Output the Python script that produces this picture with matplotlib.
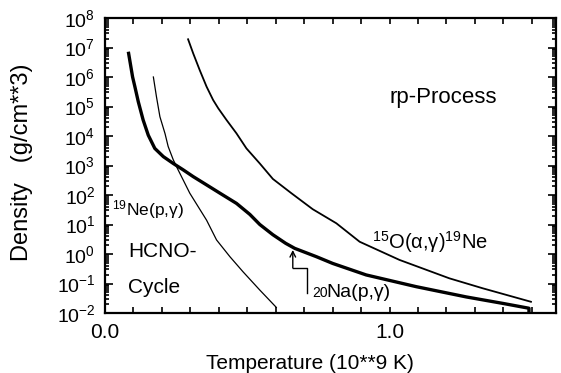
import matplotlib.pyplot as plt
import numpy as np
from matplotlib.ticker import MultipleLocator, FuncFormatter, LogLocator, NullFormatter

plt.rcParams['font.family'] = ['Liberation Sans', 'DejaVu Sans']
plt.rcParams['mathtext.fontset'] = 'custom'
plt.rcParams['mathtext.rm'] = 'Liberation Sans'
plt.rcParams['mathtext.it'] = 'Liberation Sans:italic'
plt.rcParams['mathtext.bf'] = 'Liberation Sans:bold'

# Data: temperature in 10^9 K, density in g/cm^3
# thick line: 19Ne(p,g) / 20Na(p,g) breakout
t_ne = [0.082, 0.097, 0.105, 0.117, 0.134, 0.152, 0.175, 0.205, 0.24, 0.275,
        0.31, 0.357, 0.404, 0.462, 0.509, 0.544, 0.59, 0.635, 0.667, 0.743,
        0.80, 0.918, 1.094, 1.27, 1.40, 1.49, 1.49]
rho_ne = [7.2e6, 1.0e6, 4.7e5, 1.45e5, 3.5e4, 1.07e4, 3.8e3, 2.0e3, 1.17e3, 7.1e2,
          4.2e2, 2.2e2, 1.15e2, 5.2e1, 2.2e1, 1.0e1, 4.5, 2.3, 1.55, 8.1e-1,
          4.8e-1, 1.95e-1, 7.8e-2, 3.5e-2, 2.1e-2, 1.45e-2, 1.0e-2]

# thin line: HCNO cycle limit
t_hcno = [0.170, 0.181, 0.193, 0.211, 0.222, 0.24, 0.257, 0.275, 0.298, 0.357,
          0.392, 0.439, 0.485, 0.544, 0.602]
rho_hcno = [1.0e6, 2.1e5, 4.5e4, 1.2e4, 4.4e3, 1.55e3, 7.1e2, 3.2e2, 1.15e2, 1.4e1,
            3.0, 8.1e-1, 2.5e-1, 6.0e-2, 1.55e-2]

# medium line: 15O(a,g)19Ne
t_o15 = [0.292, 0.31, 0.333, 0.357, 0.38, 0.398, 0.427, 0.462, 0.497, 0.544,
         0.59, 0.655, 0.73, 0.813, 0.895, 1.035, 1.21, 1.327, 1.497]
rho_o15 = [1.9e7, 6.3e6, 1.7e6, 4.7e5, 1.66e5, 8.7e4, 3.5e4, 1.23e4, 3.8e3, 1.17e3,
           3.5e2, 1.15e2, 3.3e1, 1.1e1, 2.6, 6.3e-1, 1.5e-1, 6.9e-2, 2.4e-2]

# x tick labels
x_labelled = [0.0, 1.0]

fig = plt.figure(figsize=(5.61, 3.73), dpi=100)
ax = fig.add_axes([105 / 561, 60 / 373, 451 / 561, 295 / 373])

ax.plot(t_ne, rho_ne, color='black', lw=2.4, solid_capstyle='butt', solid_joinstyle='round')
ax.plot(t_hcno, rho_hcno, color='black', lw=0.9, solid_joinstyle='round')
ax.plot(t_o15, rho_o15, color='black', lw=1.3, solid_joinstyle='round')

ax.set_yscale('log')
ax.set_xlim(0, 1.585)
ax.set_ylim(1e-2, 1e8)

# ticks
ax.xaxis.set_major_locator(MultipleLocator(0.1))
ax.xaxis.set_major_formatter(FuncFormatter(
    lambda v, p: f'{v:.1f}' if any(abs(v - l) < 1e-6 for l in x_labelled) else ''))
ax.yaxis.set_major_locator(LogLocator(base=10, numticks=20))
ax.yaxis.set_minor_locator(LogLocator(base=10, subs=np.arange(2, 10), numticks=20))
ax.yaxis.set_minor_formatter(NullFormatter())
ax.yaxis.set_major_formatter(FuncFormatter(
    lambda v, p: f'$\\mathregular{{10^{{{int(round(np.log10(v)))}}}}}$'))

ax.tick_params(axis='both', which='both', direction='in', top=True, right=True,
               width=1.2)
ax.tick_params(axis='x', which='major', length=4, pad=7, labelsize=15)
ax.tick_params(axis='y', which='major', length=6, pad=7, labelsize=14)
ax.tick_params(axis='y', which='minor', length=3)
for s in ax.spines.values():
    s.set_linewidth(1.6)

ax.set_xlabel('Temperature (10**9 K)', fontsize=15)
ax.set_ylabel('Density   (g/cm**3)', fontsize=17)
ax.xaxis.set_label_coords(0.455, -0.14)
ax.yaxis.set_label_coords(-0.16, 0.51)

# region / reaction labels
ax.text(1.19, 10 ** 5.32, 'rp-Process', fontsize=16, ha='center', va='center')
ax.text(0.081, 10 ** 0.07, 'HCNO-', fontsize=15, va='center')
ax.text(0.081, 10 ** -1.15, 'Cycle', fontsize=15, va='center')
ax.text(0.025, 10 ** 1.49, '$^{19}$Ne(p,γ)', fontsize=12.5, va='center')
ax.text(0.94, 10 ** 0.41, '$^{15}$O(α,γ)$^{19}$Ne', fontsize=14.5, va='center')
ax.text(0.728, 0.035, '20', fontsize=10, va='baseline')
ax.annotate('Na(p,γ)', xy=(0.728, 0.035), xytext=(10.5, 0), textcoords='offset points',
            fontsize=14, va='baseline')

# bent arrow pointing to the 20Na(p,g) line
ax.plot([0.709, 0.709, 0.66], [0.048, 0.335, 0.335], color='black', lw=1)
ax.annotate('', xy=(0.66, 1.37), xytext=(0.66, 0.335),
            arrowprops=dict(arrowstyle='->', lw=1, color='black', shrinkA=0, shrinkB=0))

fig.savefig('out.png', dpi=100)
